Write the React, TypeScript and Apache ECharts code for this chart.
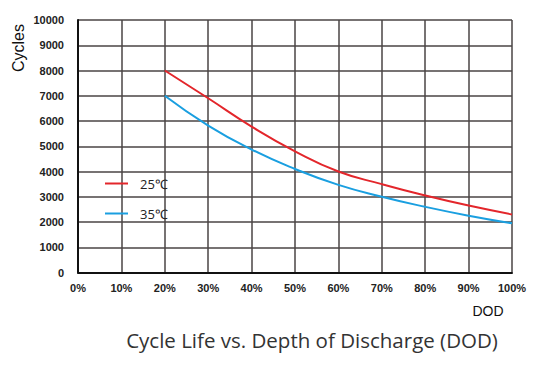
import React, { useEffect, useRef } from "react";
import * as echarts from "echarts";

const dod = [20, 30, 40, 50, 60, 70, 80, 90, 100];
const cycles25 = [8000, 6900, 5780, 4800, 4000, 3500, 3050, 2650, 2300];
const cycles35 = [7000, 5820, 4870, 4100, 3470, 3000, 2600, 2250, 1950];
const seriesNames = ["25℃", "35℃"];
const titleText = "Cycle Life vs. Depth of Discharge (DOD)";

export default function App() {
  const ref = useRef<HTMLDivElement>(null);
  useEffect(() => {
    if (!ref.current) return;
    const chart = echarts.init(ref.current, undefined, { renderer: "svg" });
    const tickFont = { fontFamily: "Liberation Sans", fontWeight: "bold" as const, fontSize: 11, color: "#222" };
    chart.setOption({
      animation: false,
      backgroundColor: "#fff",
      grid: { left: 78, right: 38, top: 20, bottom: 98.5, containLabel: false },
      legend: {
        orient: "vertical",
        left: 100,
        top: 172,
        itemWidth: 23,
        itemHeight: 2,
        itemGap: 17,
        icon: "rect",
        data: seriesNames,
        textStyle: { fontFamily: "Open Sans", fontSize: 13, color: "#222", padding: [0, 0, 0, 7] },
      },
      xAxis: {
        type: "value",
        min: 0,
        max: 100,
        interval: 10,
        axisLine: { show: true, lineStyle: { color: "#111", width: 2 } },
        axisTick: { show: false },
        splitLine: { show: true, lineStyle: { color: "#4a4444", width: 1.5 } },
        axisLabel: { ...tickFont, margin: 10, formatter: "{value}%" },
      },
      yAxis: {
        type: "value",
        min: 0,
        max: 10000,
        interval: 1000,
        axisLine: { show: true, lineStyle: { color: "#111", width: 2 } },
        axisTick: { show: false },
        splitLine: { show: true, lineStyle: { color: "#4a4444", width: 1.5 } },
        axisLabel: { ...tickFont, margin: 14, formatter: (v: number) => String(v) },
      },
      graphic: [
        {
          type: "text",
          x: 18,
          y: 48,
          rotation: Math.PI / 2,
          style: { text: "Cycles", fontFamily: "Liberation Sans", fontSize: 16, fill: "#111", align: "center", verticalAlign: "middle" },
        },
        {
          type: "text",
          x: 488,
          y: 311,
          style: { text: "DOD", fontFamily: "Liberation Sans", fontSize: 14, fill: "#111", align: "center", verticalAlign: "middle" },
        },
        {
          type: "text",
          x: 312,
          y: 340,
          style: { text: titleText, fontFamily: "Open Sans", fontSize: 20.5, fill: "#333", align: "center", verticalAlign: "middle" },
        },
      ],
      series: [
        {
          name: seriesNames[0],
          type: "line",
          smooth: true,
          showSymbol: false,
          data: dod.map((d, i) => [d, cycles25[i]]),
          lineStyle: { color: "#e3262b", width: 2 },
          itemStyle: { color: "#e3262b" },
        },
        {
          name: seriesNames[1],
          type: "line",
          smooth: true,
          showSymbol: false,
          data: dod.map((d, i) => [d, cycles35[i]]),
          lineStyle: { color: "#1a9fe0", width: 2 },
          itemStyle: { color: "#1a9fe0" },
        },
      ],
    });
    return () => chart.dispose();
  }, []);
  return <div ref={ref} style={{ width: 550, height: 371, position: "absolute", left: 0, top: 0 }} />;
}
